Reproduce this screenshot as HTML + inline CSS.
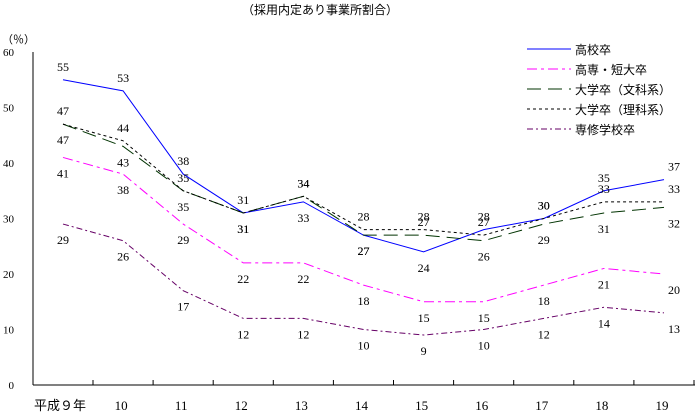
<!DOCTYPE html>
<html><head><meta charset="utf-8"><style>
body{margin:0;background:#fff;}
svg{display:block;font-family:"Liberation Serif","Noto Serif CJK SC","Noto Sans CJK JP",serif;}
</style></head><body>
<svg id="chart" width="697" height="413" xmlns="http://www.w3.org/2000/svg">
<text x="320" y="14" font-size="12" text-anchor="middle" font-family="Noto Sans CJK JP, sans-serif">（採用内定あり事業所割合）</text>
<text x="2" y="43" font-size="11" font-family="Noto Sans CJK JP, sans-serif">（％）</text>
<g id="axes"></g><g id="series"></g><g id="legend"></g>
</svg>
<script>
const categories=["平成９年","10","11","12","13","14","15","16","17","18","19"];
const yTicks=[0,10,20,30,40,50,60];
const seriesNames=["高校卒","高専・短大卒","大学卒（文科系）","大学卒（理科系）","専修学校卒"];
const highSchool=[55,53,38,31,33,27,24,28,30,35,37];
const juniorCollege=[41,38,29,22,22,18,15,15,18,21,20];
const univHumanities=[47,43,35,31,34,27,27,26,29,31,32];
const univScience=[47,44,35,31,34,28,28,27,30,33,33];
const vocational=[29,26,17,12,12,10,9,10,12,14,13];
// label side: 1 = above, -1 = below
const sides=[
 [1,1,1,1,-1,-1,-1,1,1,1,1],
 [-1,-1,-1,-1,-1,-1,-1,-1,-1,-1,-1],
 [-1,-1,-1,-1,1,-1,1,-1,-1,-1,-1],
 [1,1,1,-1,1,1,1,1,1,1,1],
 [-1,-1,-1,-1,-1,-1,-1,-1,-1,-1,-1]];
const NS="http://www.w3.org/2000/svg";
function mk(t,a,p){const e=document.createElementNS(NS,t);for(const k in a)e.setAttribute(k,a[k]);p.appendChild(e);return e;}
const x0=33,x1=695,yb=385,yt=52;
function xs(i){return 63+i*60.1;}
function ys(v){return yb-(v/60)*(yb-yt);}
const ax=document.getElementById('axes');
let l=mk('line',{x1:x0,y1:yt,x2:x0,y2:yb,stroke:'#000'},ax);


l=mk('line',{x1:x0,y1:yb,x2:x1,y2:yb,stroke:'#000'},ax);


yTicks.forEach(v=>{const t=mk('text',{x:14,y:ys(v)+4,'font-size':11,'text-anchor':'end'},ax);t.textContent=v;

});
categories.forEach((c,i)=>{
 const tk=mk('line',{x1:xs(i)+30,y1:yb,x2:xs(i)+30,y2:yb-5,stroke:'#000'},ax);
 
 
 const t=mk('text',{x:i==0?xs(i)-3:xs(i)-2,y:410,'font-size':13,'text-anchor':'middle'},ax);t.textContent=c;
 if(i==0)t.setAttribute('font-family','Noto Sans CJK JP, sans-serif');
 
 
});
const data=[highSchool,juniorCollege,univHumanities,univScience,vocational];
const colors=['#0000ff','#ff00ff','#003300','#000000','#660066'];
const dashes=['','10,4,3,4','14,7','3,3','6,3,2,3'];
const sg=document.getElementById('series');
const keys=['high-school','junior-college','univ-humanities','univ-science','vocational'];
data.forEach((d,s)=>{
 const p=mk('polyline',{points:d.map((v,i)=>xs(i)+','+ys(v)).join(' '),fill:'none',stroke:colors[s],'stroke-width':1,'stroke-dasharray':dashes[s]},sg);
 
 
 d.forEach((v,i)=>{const off=sides[s][i]>0?-9:20;
 const t=mk('text',{x:xs(i)+(i==10?10:0),y:ys(v)+off,'font-size':12,'text-anchor':'middle'},sg);t.textContent=v;
 
 });
});
const lg=document.getElementById('legend');
seriesNames.forEach((n,s)=>{
 const y=49+s*20;
 const ln=mk('line',{x1:527,y1:y,x2:571,y2:y,stroke:colors[s],'stroke-dasharray':dashes[s]},lg);
 
 
 const t=mk('text',{x:575,y:y+5,'font-size':12,'font-family':'Noto Sans CJK JP, sans-serif'},lg);t.textContent=n;
 
 
});
</script>
</body></html>
